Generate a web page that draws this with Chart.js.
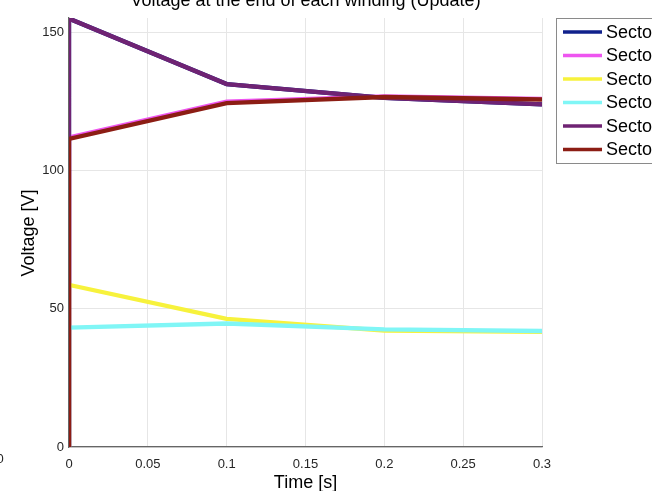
<!DOCTYPE html>
<html>
<head>
<meta charset="utf-8">
<script src="https://cdn.jsdelivr.net/npm/chart.js@4/dist/chart.umd.min.js"></script>
<style>
    html, body { margin: 0; padding: 0; background: #fff; overflow: hidden; }
    canvas { display: block; }
</style>
</head>
<body>
<canvas id="chart" width="652" height="491"></canvas>
<script>
// --- DATOS ---
const timeS = [0, 0, 0.1, 0.2, 0.3];
const sectorLabels = ['Sector 1', 'Sector 2', 'Sector 3', 'Sector 4', 'Sector 5', 'Sector 6'];
const sector1 = [0, 155.1, 131.4, 126.4, 124.0];
const sector2 = [0, 112.1, 125.0, 126.9, 126.0];
const sector3 = [0, 58.7, 46.4, 42.1, 41.7];
const sector4 = [0, 43.2, 44.7, 42.6, 42.0];
const sector5 = [0, 155.1, 131.4, 126.4, 124.0];
const sector6 = [0, 111.5, 124.5, 126.7, 125.8];
const sectorColors = ['#10218c', '#ee55f0', '#f7f23c', '#80f6f6', '#6f2373', '#8c1d14'];

const FONT = '"Liberation Sans", Arial, Helvetica, sans-serif';
const allSeries = [sector1, sector2, sector3, sector4, sector5, sector6];

const datasets = allSeries.map((vals, i) => ({
    label: sectorLabels[i],
    data: vals.map((v, k) => ({ x: timeS[k], y: v })),
    borderColor: sectorColors[i],
    backgroundColor: sectorColors[i],
    borderWidth: 4.3,
    pointRadius: 0,
    tension: 0,
    fill: false,
    order: allSeries.length - i   // el ultimo sector queda encima
}));

// titulo, etiquetas de ejes y leyenda recortada
const decorations = {
    id: 'decorations',
    afterDraw(chart) {
        const ctx = chart.ctx;
        const area = chart.chartArea;
        ctx.save();
        ctx.fillStyle = '#000';

        ctx.font = '18px ' + FONT;
        ctx.textAlign = 'center';
        ctx.textBaseline = 'alphabetic';
        ctx.fillText('Voltage at the end of each winding (Update)', (area.left + area.right) / 2, 6);
        ctx.fillText('Time [s]', (area.left + area.right) / 2, 488);

        ctx.save();
        ctx.translate(34, 233);
        ctx.rotate(-Math.PI / 2);
        ctx.fillText('Voltage [V]', 0, 0);
        ctx.restore();

        // etiqueta suelta cortada a la izquierda
        ctx.font = '13px ' + FONT;
        ctx.textBaseline = 'middle';
        ctx.fillStyle = '#262626';
        ctx.fillText('0', 0, 459);

        // leyenda
        const lx = 556, ly = 18, lh = 145;
        ctx.fillStyle = '#fff';
        ctx.fillRect(lx, ly, 200, lh);
        ctx.strokeStyle = '#8a8a8a';
        ctx.lineWidth = 1;
        ctx.strokeRect(lx + 0.5, ly + 0.5, 200, lh);
        ctx.font = '18px ' + FONT;
        ctx.textAlign = 'left';
        chart.data.datasets.forEach((ds, i) => {
            const y = 32 + i * 23.5;
            ctx.strokeStyle = ds.borderColor;
            ctx.lineWidth = 3.5;
            ctx.beginPath();
            ctx.moveTo(563, y);
            ctx.lineTo(602, y);
            ctx.stroke();
            ctx.fillStyle = '#000';
            ctx.fillText(ds.label, 606, y + 1);
        });
        ctx.restore();
    }
};

const chart = new Chart(document.getElementById('chart').getContext('2d'), {
    type: 'line',
    data: { datasets },
    options: {
        responsive: false,
        animation: false,
        layout: { padding: { top: 18, right: 110, left: 0, bottom: 0 } },
        plugins: { legend: { display: false }, title: { display: false }, tooltip: { enabled: false } },
        scales: {
            x: {
                type: 'linear', min: 0, max: 0.3,
                afterFit: s => { s.height = 44; },
                ticks: { stepSize: 0.05, padding: 10, color: '#262626', font: { family: FONT, size: 13 },
                         callback: v => String(Math.round(v * 100) / 100) },
                grid: { color: '#e6e6e6', drawTicks: false },
                border: { color: '#666', width: 1.3 }
            },
            y: {
                min: 0, max: 155.3,
                afterFit: s => { s.width = 69; },
                ticks: { stepSize: 50, includeBounds: false, padding: 5, color: '#262626', font: { family: FONT, size: 13 } },
                grid: { color: '#e6e6e6', drawTicks: false },
                border: { color: '#666', width: 1.3 }
            }
        }
    },
    plugins: [decorations]
});
</script>
</body>
</html>
